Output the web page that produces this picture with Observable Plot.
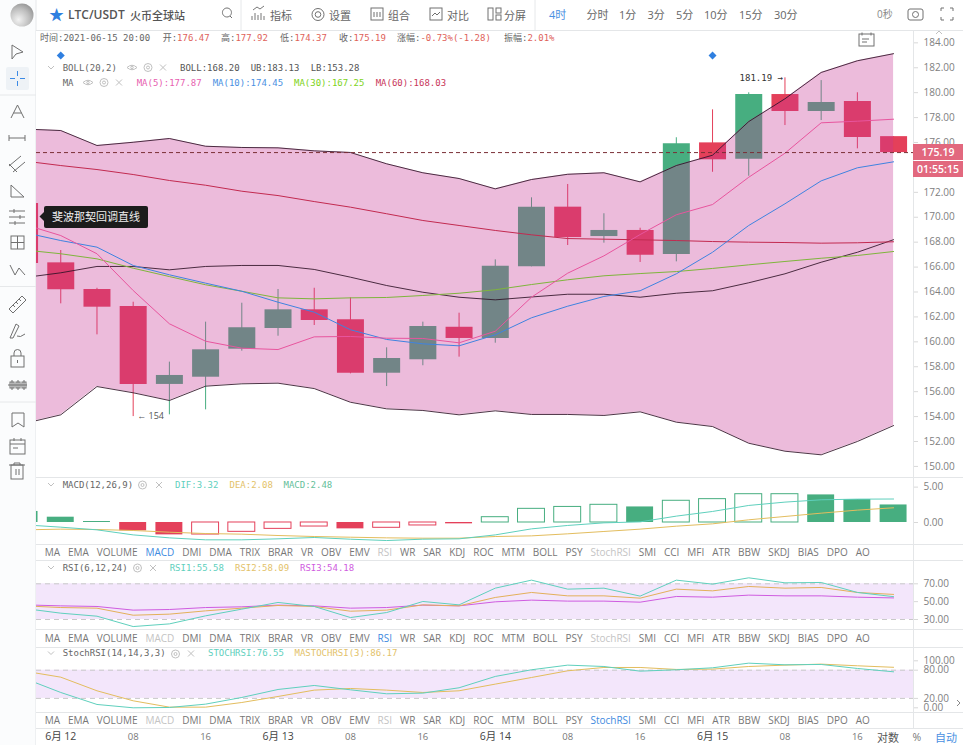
<!DOCTYPE html>
<html>
<head>
<meta charset="utf-8">
<script src="https://cdn.jsdelivr.net/npm/d3@7"></script>
<script src="https://cdn.jsdelivr.net/npm/@observablehq/plot@0.6"></script>
<style>
  html, body { margin: 0; background: #fff; }
  body { position: relative; width: 963px; height: 745px; overflow: hidden; font-family: "Open Sans", "Noto Sans CJK SC", sans-serif; }
  .t { position: absolute; transform: translateY(-50%); white-space: nowrap; line-height: 1; }
  .m { font-family: "DejaVu Sans Mono", "Noto Sans CJK SC", monospace; font-size: 9px; }
  .pane { position: absolute; left: 0; }
  .pane svg { display: block; }
  .hr { position: absolute; left: 36px; width: 927px; height: 1px; background: #e4e6e8; }
  .tabs { position: absolute; left: 44.7px; display: flex; gap: 7.93px; font-size: 10px; color: #777; transform: translateY(-50%); line-height: 1; }
</style>
</head>
<body>
<script>
// index -1 is the candle cut off by the left edge
const idx = d3.range(-1, 24)

const opens = [171.10,166.34,164.20,162.84,156.58,157.16,159.41,161.07,162.57,161.77,157.48,158.56,161.17,160.27,166.02,170.81,168.45,168.94,167.01,175.97,174.66,179.85,178.49,179.29,176.47]
const closes = [166.29,164.18,162.78,156.58,157.30,159.36,161.13,162.57,161.71,157.48,158.66,161.23,160.27,166.07,170.81,168.37,168.94,166.95,175.89,174.61,179.85,178.49,179.21,176.40,175.19]
const highs = [171.10,167.33,164.30,163.18,158.37,161.58,163.10,164.20,164.30,163.53,159.52,161.58,162.30,166.58,171.56,172.63,170.28,169.12,176.38,178.62,179.99,181.19,180.97,179.99,176.47]
const lows = [166.29,163.05,160.56,154.00,154.14,154.54,159.25,160.45,161.31,157.43,156.41,158.08,158.77,159.89,166.02,167.73,167.92,166.37,166.42,173.61,173.29,177.36,177.76,175.49,175.19]

const bollUp = [177.08,176.96,175.76,176.02,176.32,175.70,175.60,175.57,175.33,175.20,174.29,173.57,173.11,172.28,173.03,173.45,173.57,172.84,174.15,174.98,177.68,179.51,181.62,182.56,183.13]
const bollMid = [165.16,165.54,166.05,166.05,165.78,166.05,166.13,166.13,165.81,165.19,164.52,163.98,163.58,163.37,163.60,163.82,163.82,163.58,163.90,164.10,164.74,165.46,166.39,167.19,168.20]
const bollLow = [153.45,154.14,156.41,155.91,155.29,156.44,156.63,156.68,156.25,155.15,154.62,154.49,154.14,154.46,154.17,154.17,154.09,154.38,153.55,153.20,151.86,151.22,150.93,152.00,153.28]

const ma5 = [169.42,168.53,167.07,164.12,161.45,160.05,159.49,159.38,160.40,160.43,160.29,160.27,159.92,160.85,163.58,165.51,166.90,168.61,170.20,171.02,173.21,175.14,177.58,177.71,177.87]
const ma10 = [168.77,168.13,167.60,166.13,165.38,164.71,164.06,163.18,162.38,160.97,160.19,159.84,159.68,160.56,161.93,162.86,163.64,164.10,165.46,167.19,169.34,171.08,172.92,173.97,174.45]
const ma30 = [167.37,167.07,166.66,165.91,165.24,164.58,164.06,163.53,163.45,163.53,163.56,163.72,163.90,164.18,164.60,164.98,165.30,165.48,165.64,165.89,166.18,166.45,166.71,166.93,167.25]
const ma60 = [174.51,174.15,173.83,173.43,172.95,172.57,172.09,171.74,171.26,170.81,170.28,169.74,169.34,168.94,168.59,168.29,168.24,168.19,168.13,168.05,168.00,167.97,167.92,167.95,168.03]

const macdHist = [1.56,0.75,0.14,-1.18,-1.75,-1.70,-1.32,-0.90,-0.57,-0.90,-0.75,-0.42,-0.19,0.75,1.93,2.20,2.50,2.20,3.07,3.30,4.00,4.00,3.90,3.25,2.48]
const macdSolid = [1,1,1,1,1,0,0,0,0,1,0,0,1,0,0,0,0,1,0,0,0,0,1,1,1]
const dif = [-0.33,-0.66,-1.04,-1.75,-2.17,-2.45,-2.45,-2.31,-2.12,-2.36,-2.55,-2.36,-2.31,-1.75,-0.90,-0.42,-0.05,0.09,0.90,1.56,2.41,2.88,3.21,3.30,3.32]
const dea = [-1.04,-0.94,-0.99,-1.13,-1.37,-1.56,-1.65,-1.84,-1.98,-2.08,-2.17,-2.22,-2.22,-1.98,-1.89,-1.60,-1.27,-0.94,-0.52,-0.19,0.38,0.85,1.32,1.75,2.08]

const rsi1 = [42.3,37.1,33.7,22.1,25.1,34.1,41.6,49.1,44.6,32.2,37.8,50.2,46.4,65.1,74.1,64.0,65.1,56.2,74.1,69.6,76.7,71.1,71.5,60.3,55.58]
const rsi2 = [45.3,43.4,42.7,34.8,36.0,39.7,42.7,45.7,44.6,39.3,40.5,46.4,45.3,54.7,60.3,56.5,56.5,53.9,64.0,62.1,67.0,65.1,65.9,60.3,58.09]
const rsi3 = [46.4,45.3,44.6,40.5,41.2,43.4,44.2,46.1,45.3,42.7,43.4,46.1,45.3,49.8,51.7,50.6,50.6,49.4,55.8,55.0,57.3,56.5,56.5,55.0,54.18]

const stoch = [62.4,32.6,7.1,0,0.7,7.8,22.0,39.0,47.5,38.3,29.8,31.2,42.6,66.7,80.9,90.8,87.9,78.0,80.9,85.1,95.0,91.5,92.2,83.7,76.55]
const maStoch = [78.0,65.2,36.2,14.9,1.4,1.4,11.3,24.1,37.6,41.1,37.6,32.6,36.2,50.4,64.5,78.7,85.8,85.8,81.6,82.3,87.9,90.8,92.9,89.4,86.17]

// 174 sits behind the countdown tag in the reference, so it gets no label
const priceTicks = [150,152,154,156,158,160,162,164,166,168,170,172,176,178,180,182,184]
const dateTicks = [0,2,4,6,8,10,12,14,16,18,20,22]
const dateLabels = ["6月 12","08","16","6月 13","08","16","6月 14","08","16","6月 15","08","16"]
const tabNames = ["MA","EMA","VOLUME","MACD","DMI","DMA","TRIX","BRAR","VR","OBV","EMV","RSI","WR","SAR","KDJ","ROC","MTM","BOLL","PSY","StochRSI","SMI","CCI","MFI","ATR","BBW","SKDJ","BIAS","DPO","AO"]
const periods = ["分时","1分","3分","5分","10分","15分","30分"]

const RED = "#e4405a", GREEN = "#47ae80"
const xDomain = [-0.67, 23.55]
const halfBody = 0.372

const rows = idx.map((i, k) => ({
  i, open: opens[k], close: closes[k], high: highs[k], low: lows[k],
  color: closes[k] >= opens[k] ? GREEN : RED,
  up: bollUp[k], mid: bollMid[k], dn: bollLow[k],
  ma5: ma5[k], ma10: ma10[k], ma30: ma30[k], ma60: ma60[k],
  hist: macdHist[k], solid: macdSolid[k], dif: dif[k], dea: dea[k],
  rsi1: rsi1[k], rsi2: rsi2[k], rsi3: rsi3[k],
  stoch: stoch[k], maStoch: maStoch[k]
}))

function pane(top, height, domain, ticks, format, marks) {
  const chart = Plot.plot({
    width: 963, height,
    marginTop: 0, marginBottom: 0, marginLeft: 36, marginRight: 50,
    x: {domain: xDomain, axis: null},
    y: {domain},
    style: {background: "transparent", fontFamily: '"Open Sans", sans-serif', fontSize: "10px", overflow: "visible"},
    marks: [
      ...marks,
      Plot.axisY(ticks, {anchor: "right", tickSize: 4, tickPadding: 6, color: "#808080", stroke: "#d8d8d8", tickFormat: format, label: null})
    ]
  })
  const div = document.createElement("div")
  div.className = "pane"
  div.style.top = top + "px"
  div.appendChild(chart)
  document.body.appendChild(div)
}

const fixed2 = d => d.toFixed(2)
const bandLine = {stroke: "#2e1226", strokeWidth: 1, strokeOpacity: 0.85, clip: true}

// main pane: candles sit under the translucent Bollinger band
pane(30, 447, [149.11, 184.99], priceTicks, fixed2, [
  Plot.ruleX(rows, {x: "i", y1: "low", y2: "high", stroke: "color", strokeWidth: 1, clip: true}),
  Plot.ruleX(rows, {x: "i", y1: "open", y2: "close", stroke: "color", strokeWidth: 27, clip: true}),
  Plot.areaY(rows, {x: "i", y1: "dn", y2: "up", fill: "rgb(199,53,148)", fillOpacity: 0.337, clip: true}),
  Plot.lineY(rows, {x: "i", y: "up", ...bandLine}),
  Plot.lineY(rows, {x: "i", y: "mid", ...bandLine}),
  Plot.lineY(rows, {x: "i", y: "dn", ...bandLine}),
  Plot.lineY(rows, {x: "i", y: "ma60", stroke: "#c22a50", strokeWidth: 1, clip: true}),
  Plot.lineY(rows, {x: "i", y: "ma30", stroke: "#7fb53c", strokeWidth: 1, clip: true}),
  Plot.lineY(rows, {x: "i", y: "ma10", stroke: "#3f83e0", strokeWidth: 1, clip: true}),
  Plot.lineY(rows, {x: "i", y: "ma5", stroke: "#e8559e", strokeWidth: 1, clip: true}),
  Plot.ruleY([closes[closes.length - 1]], {stroke: "#7a2f36", strokeDasharray: "4,3", strokeWidth: 1}),
  Plot.dot([0, 18], {x: d => d, y: () => 182.98, symbol: "diamond2", r: 3.6, fill: "#2f7fe0", stroke: "none"}),
  Plot.text(["181.19 →"], {x: () => 20, y: () => 181.19, textAnchor: "end", dx: -2, fill: "#333", fontSize: 9, fontFamily: "DejaVu Sans Mono"}),
  Plot.text(["← 154"], {x: () => 2, y: () => 154, textAnchor: "start", dx: 4, fill: "#555", fontSize: 9})
])

const bar = {x1: d => d.i - halfBody, x2: d => d.i + halfBody, y1: () => 0, y2: "hist", clip: true}
pane(477, 67, [-3.11, 6.36], [0, 5], fixed2, [
  Plot.rect(rows.filter(d => d.solid), {...bar, fill: d => d.hist >= 0 ? GREEN : RED}),
  Plot.rect(rows.filter(d => !d.solid), {...bar, fill: "none", stroke: d => d.hist >= 0 ? GREEN : RED, strokeWidth: 1}),
  Plot.lineY(rows, {x: "i", y: "dea", stroke: "#e3bd5e", strokeWidth: 1, clip: true}),
  Plot.lineY(rows, {x: "i", y: "dif", stroke: "#5fd0bd", strokeWidth: 1, clip: true})
])

pane(560, 69, [18.8, 96.1], [30, 50, 70], fixed2, [
  Plot.rect([0], {y1: () => 30, y2: () => 70, fill: "#f3e6fb"}),
  Plot.ruleY([30, 70], {stroke: "#c9c9c9", strokeDasharray: "5,4"}),
  Plot.lineY(rows, {x: "i", y: "rsi3", stroke: "#cf5ce0", strokeWidth: 1, clip: true}),
  Plot.lineY(rows, {x: "i", y: "rsi2", stroke: "#e3b05a", strokeWidth: 1, clip: true}),
  Plot.lineY(rows, {x: "i", y: "rsi1", stroke: "#5fd0bd", strokeWidth: 1, clip: true})
])

pane(647, 65, [-10, 128.3], [0, 20, 80, 100], fixed2, [
  Plot.rect([0], {y1: () => 20, y2: () => 80, fill: "#f3e6fb"}),
  Plot.ruleY([20, 80], {stroke: "#c9c9c9", strokeDasharray: "5,4"}),
  Plot.lineY(rows, {x: "i", y: "maStoch", stroke: "#e3bd5e", strokeWidth: 1, clip: true}),
  Plot.lineY(rows, {x: "i", y: "stoch", stroke: "#5fd0bd", strokeWidth: 1, clip: true})
])

// time axis along the bottom
const timeAxis = Plot.plot({
  width: 963, height: 17, marginTop: 0, marginBottom: 0, marginLeft: 36, marginRight: 50,
  x: {domain: xDomain, axis: null},
  style: {background: "transparent", fontFamily: '"Open Sans", "Noto Sans CJK SC", sans-serif'},
  marks: [
    Plot.text(dateTicks, {
      x: d => d,
      text: (d, k) => dateLabels[k],
      frameAnchor: "middle",
      fontSize: d => d % 6 === 0 ? 10.5 : 9.5,
      fontWeight: d => d % 6 === 0 ? "bold" : "normal",
      fill: d => d % 6 === 0 ? "#444" : "#777"
    })
  ]
})
const axisDiv = document.createElement("div")
axisDiv.className = "pane"
axisDiv.style.top = "728px"
axisDiv.appendChild(timeAxis)
document.body.appendChild(axisDiv)

// page furniture around the chart
function txt(x, y, str, size, color, extra) {
  const s = document.createElement("span")
  s.className = "t"
  s.textContent = str
  s.style.cssText = `left:${x}px;top:${y}px;font-size:${size}px;color:${color};${extra || ""}`
  document.body.appendChild(s)
  return s
}
function mono(x, y, str, color) {
  const s = txt(x, y, str, 9, color)
  s.classList.add("m")
}
function line(top) {
  const d = document.createElement("div")
  d.className = "hr"
  d.style.top = top + "px"
  document.body.appendChild(d)
}
;[30, 477, 544, 560, 629, 647, 712, 728].forEach(line)

const vr = document.createElement("div")
vr.style.cssText = "position:absolute;left:913px;top:30px;width:1px;height:698px;background:#e4e6e8"
document.body.appendChild(vr)
const side = document.createElement("div")
side.style.cssText = "position:absolute;left:0;top:30px;width:36px;height:715px;background:#fbfcfd;border-right:1px solid #eef0f2;box-sizing:border-box"
document.body.appendChild(side)

function tabs(y, active, dim) {
  const d = document.createElement("div")
  d.className = "tabs"
  d.style.top = y + "px"
  tabNames.forEach(n => {
    const s = document.createElement("span")
    s.textContent = n
    if (n === active) s.style.color = "#3f8be0"
    else if (dim.includes(n)) s.style.color = "#c4c4c4"
    d.appendChild(s)
  })
  document.body.appendChild(d)
}
tabs(552, "MACD", ["RSI", "StochRSI"])
tabs(637.5, "RSI", ["MACD", "StochRSI"])
tabs(719.5, "StochRSI", ["MACD", "RSI"])

// header
txt(68, 15, "LTC/USDT", 12, "#555", "font-weight:600")
txt(130, 15, "火币全球站", 11, "#555", "font-weight:500")
txt(49, 14, "★", 15, "#2f7fe0")
txt(270, 15, "指标", 11, "#666")
txt(329, 15, "设置", 11, "#666")
txt(388, 15, "组合", 11, "#666")
txt(447, 15, "对比", 11, "#666")
txt(504, 15, "分屏", 11, "#666")
txt(549, 14, "4时", 11, "#4a90e2")
const periodX = [586.5, 619, 647.5, 676, 704, 739, 774]
periods.forEach((p, k) => txt(periodX[k], 14, p, 11, "#666"))
txt(877, 13.5, "0秒", 10, "#888")

// info line
mono(40, 37.5, "时间:2021-06-15 20:00", "#666")
const info = [[162.7, "开:", "176.47"], [221, "高:", "177.92"], [280, "低:", "174.37"], [339, "收:", "175.19"], [397, "涨幅:", "-0.73%(-1.28)"], [504, "振幅:", "2.01%"]]
info.forEach(([x, a, b]) => {
  const s = txt(x, 37.5, a, 9, "#666")
  s.classList.add("m")
  const v = document.createElement("span")
  v.textContent = b
  v.style.color = "#e0625a"
  s.appendChild(v)
})

// indicator legends
mono(62.7, 67.5, "BOLL(20,2)", "#666")
mono(180, 67.5, "BOLL:168.20", "#555")
mono(250.7, 67.5, "UB:183.13", "#555")
mono(310.7, 67.5, "LB:153.28", "#555")
mono(62.7, 82.5, "MA", "#666")
mono(136.7, 82.5, "MA(5):177.87", "#e75fb0")
mono(212.7, 82.5, "MA(10):174.45", "#4a90e2")
mono(294, 82.5, "MA(30):167.25", "#7ed321")
mono(375.7, 82.5, "MA(60):168.03", "#c9375a")
mono(62.7, 485, "MACD(12,26,9)", "#666")
mono(175, 485, "DIF:3.32", "#5fd0bd")
mono(229.5, 485, "DEA:2.08", "#e3c26a")
mono(283.5, 485, "MACD:2.48", "#65c09a")
mono(62.7, 567.7, "RSI(6,12,24)", "#666")
mono(169.7, 567.7, "RSI1:55.58", "#5fd0bd")
mono(235, 567.7, "RSI2:58.09", "#e3c26a")
mono(300, 567.7, "RSI3:54.18", "#cf5ce0")
mono(62.7, 653.3, "StochRSI(14,14,3,3)", "#666")
mono(208, 653.3, "STOCHRSI:76.55", "#5fd0bd")
mono(294.5, 653.3, "MASTOCHRSI(3):86.17", "#e3c26a")

// tooltip on the toolbar
const tip = txt(44, 216.5, "斐波那契回调直线", 11, "#eee", "background:#1c1c1c;padding:5.5px 8px;border-radius:2px")

// price tags
txt(913, 152, "175.19", 10.5, "#fff", "width:50px;height:16px;line-height:16px;background:#e2687e;text-align:center;font-weight:600")
txt(913, 169, "01:55:15", 10.5, "#fff", "width:50px;height:16px;line-height:16px;background:#e2687e;text-align:center;font-weight:600")

// bottom right
txt(877, 737, "对数", 11, "#555")
txt(912.5, 737, "%", 10.5, "#777")
txt(935, 737, "自动", 11, "#4a90e2")

// icons
const icons = document.createElementNS("http://www.w3.org/2000/svg", "svg")
icons.setAttribute("width", 963)
icons.setAttribute("height", 745)
icons.style.cssText = "position:absolute;left:0;top:0;pointer-events:none"
icons.innerHTML = `
<rect x="0" y="0" width="36" height="30" fill="#fbfcfd"/>
<circle cx="22" cy="15" r="11.5" fill="url(#ball)"/>
<defs><radialGradient id="ball" cx="0.35" cy="0.7" r="0.8"><stop offset="0" stop-color="#f2f2f2"/><stop offset="0.6" stop-color="#bdbdbd"/><stop offset="1" stop-color="#8f8f8f"/></radialGradient></defs>
<rect x="6" y="67" width="23" height="23" rx="2" fill="#eef2f6"/>
<g fill="none" stroke="#3b8ae6"><path d="M10 78.5H15M20 78.5H25M17.5 71V76M17.5 81V86"/></g>
<g fill="none" stroke="#707070" stroke-width="1">
<path d="M227 17a4.5 4.5 0 1 0-.1 0M230 16l2 2"/>
<path d="M252 20v-4M255 20v-7M258 20v-5M261 20v-7M264 20v-4M253 10l4-3 3 2 4-3" stroke="#777"/>
<circle cx="318" cy="14.5" r="2.8"/><circle cx="318" cy="14.5" r="6"/>
<rect x="371" y="8" width="12" height="12"/><path d="M374 12v5M377 12v5M380 12v5"/>
<rect x="430" y="8" width="12" height="12"/><path d="M432 16l3-3 2 2 3-3"/>
<rect x="488" y="8" width="5" height="12"/><rect x="496" y="8" width="5" height="5"/><rect x="496" y="15" width="5" height="5"/>
<rect x="908" y="9" width="15" height="11" rx="2"/><circle cx="915.5" cy="14.5" r="3"/>
<path d="M941 11v-3h3M953 11v-3h-3M941 17v3h3M953 17v3h-3"/>
<rect x="859" y="34" width="15" height="12"/><path d="M862 32.5v3M871 32.5v3M862 39h7M862 42h5"/>
<path d="M12 45V59L16 54L23 52Z"/>
<path d="M11 118L17.5 105L24 118M13.5 113H21.5"/>
<path d="M9 138H25M9 135V141M25 135V141"/>
<path d="M9 166L21 156M13 172L25 162M9 164L17 172"/>
<path d="M11 197V185L24 197Z"/>
<path d="M9 211H25M9 217H25M9 223H25M14 209V213M20 215V219M15 221V225"/>
<rect x="11" y="236" width="13" height="13"/><path d="M17.5 236V249M11 242.5H24"/>
<path d="M10 265L15 275L19 268L25 275"/>
<path d="M9 309L22 296L26 300L13 313Z"/><path d="M13 305l2 2M16 302l2 2M19 299l2 2"/>
<path d="M10 338L16 324L19 326L13 338ZM17 336q3 2 8-2"/>
<rect x="11" y="356" width="13" height="11"/><path d="M14 356V353a3.5 3.5 0 0 1 7 0V356M17.5 360v3"/>
<path d="M8 385H27M12 380v10M18 380v10M24 380v10"/><rect x="10" y="382" width="4" height="6"/><rect x="16" y="382" width="4" height="6"/><rect x="22" y="382" width="4" height="6"/>
<path d="M12 413H24V427L18 423L12 427Z"/>
<rect x="10" y="440" width="15" height="14"/><path d="M10 444H25M14 438v3M21 438v3M13 448h5"/>
<path d="M9 465H25M14 465v-2h6v2"/><rect x="11" y="465" width="12" height="14"/><path d="M16 469v6M19 469v6"/>
</g>
<g stroke="#e6e8ea"><path d="M0 95H36M0 286.5H36M0 402H36M36 0V30M241 0V30M535 0V30"/></g>
<g fill="none" stroke="#c0c0c0">
<path d="M48 66l3 3 3-3M48 483l3 3 3-3M48 566l3 3 3-3M48 651.5l3 3 3-3"/>
<path d="M160 64.5l6 6M166 64.5l-6 6M116 79.5l6 6M122 79.5l-6 6M156 482l6 6M162 482l-6 6M150 565l6 6M156 565l-6 6M188 650.5l6 6M194 650.5l-6 6"/>
<circle cx="148" cy="67.5" r="4"/><circle cx="148" cy="67.5" r="1.5"/>
<circle cx="104" cy="82.5" r="4"/><circle cx="104" cy="82.5" r="1.5"/>
<circle cx="142.5" cy="485" r="4"/><circle cx="142.5" cy="485" r="1.5"/>
<circle cx="137.5" cy="568" r="4"/><circle cx="137.5" cy="568" r="1.5"/>
<circle cx="175.5" cy="654" r="4"/><circle cx="175.5" cy="654" r="1.5"/>
<path d="M127 67.5q5-4.5 10 0q-5 4.5-10 0ZM83 82.5q5-4.5 10 0q-5 4.5-10 0Z"/>
<circle cx="132" cy="67.5" r="1.2"/><circle cx="88" cy="82.5" r="1.2"/>
<path d="M936 34l3-3 3 3"/>
</g>
<path d="M44 212L39.5 216.5L44 221Z" fill="#1c1c1c"/>
<path d="M957 700l3 3-3 3" fill="none" stroke="#888"/>`
document.body.appendChild(icons)
</script>
</body>
</html>
